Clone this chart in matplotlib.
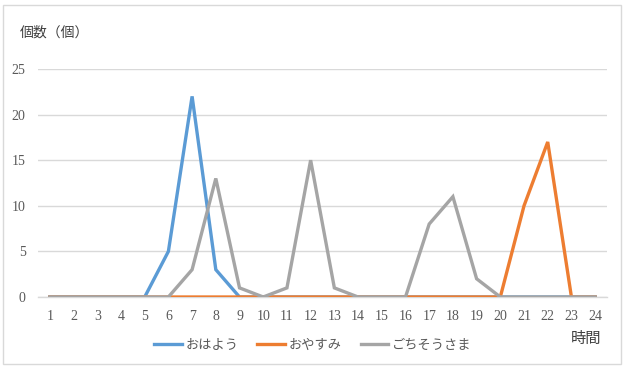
import matplotlib
matplotlib.use("Agg")
import matplotlib.pyplot as plt
from matplotlib.patches import Rectangle

hours = list(range(1, 25))
ohayou = [0, 0, 0, 0, 0, 5, 22, 3, 0, 0, 0, 0, 0, 0, 0, 0, 0, 0, 0, 0, 0, 0, 0, 0]
oyasumi = [0, 0, 0, 0, 0, 0, 0, 0, 0, 0, 0, 0, 0, 0, 0, 0, 0, 0, 0, 0, 10, 17, 0, 0]
gochisou = [0, 0, 0, 0, 0, 0, 3, 13, 1, 0, 1, 15, 1, 0, 0, 0, 8, 11, 2, 0, 0, 0, 0, 0]
series_names = ["おはよう", "おやすみ", "ごちそうさま"]
colors = ["#5B9BD5", "#ED7D31", "#A5A5A5"]
yticks = [0, 5, 10, 15, 20, 25]

jp = ["Noto Sans CJK JP", "DejaVu Sans"]
numfont = ["Liberation Serif", "DejaVu Serif"]

fig = plt.figure(figsize=(6.27, 3.69), dpi=100)
W, H = 627, 369
ax = fig.add_axes([38 / W, 1 - 297 / H, (607 - 38) / W, (297 - 69) / H])

for vals, name, c in zip([ohayou, oyasumi, gochisou], series_names, colors):
    ax.plot(hours, vals, color=c, lw=2.4, label=name, solid_joinstyle="miter", zorder=3)

ax.set_xlim(0.5, 24.5)
ax.set_ylim(0, 25)
ax.set_yticks(yticks)
ax.set_xticks(hours)
ax.yaxis.grid(True, color="#D9D9D9", lw=1)
ax.set_axisbelow(True)
for s in ["top", "right", "left"]:
    ax.spines[s].set_visible(False)
ax.spines["bottom"].set_color("#D9D9D9")
ax.spines["bottom"].set_linewidth(1)
ax.tick_params(axis="both", length=0, colors="#595959", labelsize=10)
ax.tick_params(axis="x", pad=9)
ax.tick_params(axis="y", pad=9)
for lab in ax.get_xticklabels() + ax.get_yticklabels():
    lab.set_fontfamily(numfont)

fig.text(20 / W, 1 - 33 / H, "個数（個）", family=jp, fontsize=10, color="#404040", va="center", ha="left")
fig.text(601 / W, 1 - 338 / H, "時間", family=jp, fontsize=11, color="#404040", va="center", ha="right")

leg = fig.legend(loc="center", bbox_to_anchor=(313 / W, 1 - 345 / H), ncol=3, frameon=False,
                 prop={"family": jp, "size": 9.5}, handlelength=2.1, columnspacing=1.4, handletextpad=0.3)
for t in leg.get_texts():
    t.set_color("#595959")

fig.patches.append(Rectangle((3 / W, 5 / H), (621 - 3) / W, (364 - 5) / H, transform=fig.transFigure,
                             fill=False, edgecolor="#D9D9D9", lw=1))

fig.savefig("out.png", dpi=100)
